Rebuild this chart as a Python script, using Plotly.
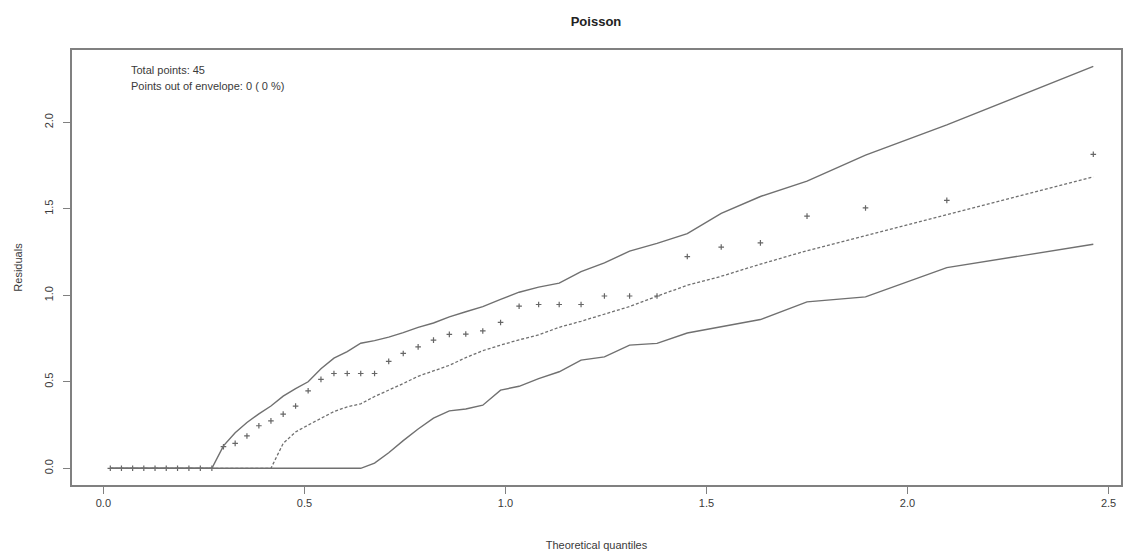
import plotly.graph_objects as go

# Theoretical half-normal quantiles (x)
theoretical = [0.0173, 0.0450, 0.0728, 0.1006, 0.1285, 0.1564, 0.1845, 0.2128, 0.2412, 0.2699,
               0.2987, 0.3278, 0.3571, 0.3868, 0.4168, 0.4472, 0.4781, 0.5093, 0.5412, 0.5735,
               0.6065, 0.6401, 0.6745, 0.7097, 0.7458, 0.7829, 0.8211, 0.8605, 0.9014, 0.9437,
               0.9879, 1.0340, 1.0826, 1.1337, 1.1881, 1.2462, 1.3088, 1.3770, 1.4523, 1.5367,
               1.6342, 1.7501, 1.8956, 2.0978, 2.4621]

residuals = [0, 0, 0, 0, 0, 0, 0, 0, 0, 0,
             0.125, 0.144, 0.187, 0.246, 0.274, 0.313, 0.360, 0.448, 0.514, 0.548,
             0.548, 0.548, 0.548, 0.618, 0.664, 0.702, 0.741, 0.774, 0.776, 0.794,
             0.843, 0.937, 0.947, 0.947, 0.947, 0.996, 0.996, 0.996, 1.224, 1.279,
             1.303, 1.458, 1.505, 1.549, 1.815]

upper_env = [0, 0, 0, 0, 0, 0, 0, 0, 0, 0,
             0.130, 0.205, 0.265, 0.315, 0.360, 0.417, 0.460, 0.500, 0.575, 0.637,
             0.675, 0.723, 0.738, 0.758, 0.784, 0.815, 0.840, 0.875, 0.905, 0.935,
             0.977, 1.018, 1.047, 1.070, 1.137, 1.188, 1.255, 1.300, 1.356, 1.474,
             1.571, 1.660, 1.810, 1.985, 2.323]

mean_env = [0, 0, 0, 0, 0, 0, 0, 0, 0, 0,
            0, 0, 0, 0, 0, 0.144, 0.210, 0.250, 0.290, 0.328,
            0.355, 0.373, 0.415, 0.450, 0.490, 0.532, 0.563, 0.595, 0.640, 0.680,
            0.712, 0.743, 0.771, 0.815, 0.850, 0.890, 0.935, 0.995, 1.058, 1.110,
            1.180, 1.258, 1.345, 1.470, 1.685]

lower_env = [0, 0, 0, 0, 0, 0, 0, 0, 0, 0,
             0, 0, 0, 0, 0, 0, 0, 0, 0, 0,
             0, 0, 0.030, 0.090, 0.160, 0.227, 0.290, 0.332, 0.343, 0.365,
             0.452, 0.474, 0.518, 0.558, 0.625, 0.644, 0.712, 0.722, 0.782, 0.820,
             0.860, 0.962, 0.991, 1.160, 1.295]

x_ticks = [0.0, 0.5, 1.0, 1.5, 2.0, 2.5]
x_tick_labels = ["0.0", "0.5", "1.0", "1.5", "2.0", "2.5"]
y_ticks = [0.0, 0.5, 1.0, 1.5, 2.0]
y_tick_labels = ["0.0", "0.5", "1.0", "1.5", "2.0"]

FONT = "Liberation Sans, Arial, sans-serif"
LINE_COL = "#707070"
TEXT_COL = "#3a3a3a"

fig = go.Figure()

fig.add_trace(go.Scatter(
    x=theoretical, y=residuals, mode="markers",
    marker=dict(symbol="cross-thin", size=4, line=dict(width=1.2, color="#666666"), color="#666666"),
    showlegend=False, hoverinfo="x+y"))

fig.add_trace(go.Scatter(
    x=theoretical, y=lower_env, mode="lines",
    line=dict(color=LINE_COL, width=1.4), showlegend=False))
fig.add_trace(go.Scatter(
    x=theoretical, y=upper_env, mode="lines",
    line=dict(color=LINE_COL, width=1.4), showlegend=False))
fig.add_trace(go.Scatter(
    x=theoretical, y=mean_env, mode="lines",
    line=dict(color=LINE_COL, width=1.3, dash="3px,2px"), showlegend=False))

fig.update_layout(
    width=1127, height=553,
    margin=dict(l=72, r=6, t=50, b=68, autoexpand=False),
    paper_bgcolor="white", plot_bgcolor="white",
    font=dict(family=FONT, size=11, color=TEXT_COL),
    title=dict(text="<b>Poisson</b>", x=596 / 1127, xanchor="center",
               y=1 - 21 / 553, yanchor="middle", yref="container",
               font=dict(family=FONT, size=13, color="#222222")),
    xaxis=dict(
        range=[-0.078, 2.531], tickvals=x_ticks, ticktext=x_tick_labels,
        showgrid=False, zeroline=False, showline=True, mirror=True,
        linecolor="#808080", linewidth=1.5, automargin=False,
        ticks="outside", ticklen=7, tickwidth=1, tickcolor="#808080",
        tickfont=dict(size=11, color=TEXT_COL),
        title=dict(text="Theoretical quantiles", font=dict(size=11, color=TEXT_COL), standoff=33),
    ),
    yaxis=dict(
        range=[-0.0965, 2.418], tickvals=y_ticks, ticktext=y_tick_labels,
        showgrid=False, zeroline=False, showline=True, mirror=True,
        linecolor="#808080", linewidth=1.5, automargin=False,
        ticks="outside", ticklen=7, tickwidth=1, tickcolor="#808080",
        tickangle=-90, tickfont=dict(size=11, color=TEXT_COL), ticklabelstandoff=6,
        title=dict(text="Residuals", font=dict(size=11, color=TEXT_COL), standoff=18),
    ),
    annotations=[
        dict(text="Total points: 45", xref="paper", yref="paper",
             x=(129 - 72) / 1049, y=1 - 20 / 435, xanchor="left", yanchor="middle",
             showarrow=False, font=dict(size=11, color=TEXT_COL)),
        dict(text="Points out of envelope: 0 ( 0 %)", xref="paper", yref="paper",
             x=(129 - 72) / 1049, y=1 - 36 / 435, xanchor="left", yanchor="middle",
             showarrow=False, font=dict(size=11, color=TEXT_COL)),
    ],
)

fig.write_html("out.html", config={"displayModeBar": False},
               post_script="document.body.style.margin='0';document.body.style.overflow='hidden';")
